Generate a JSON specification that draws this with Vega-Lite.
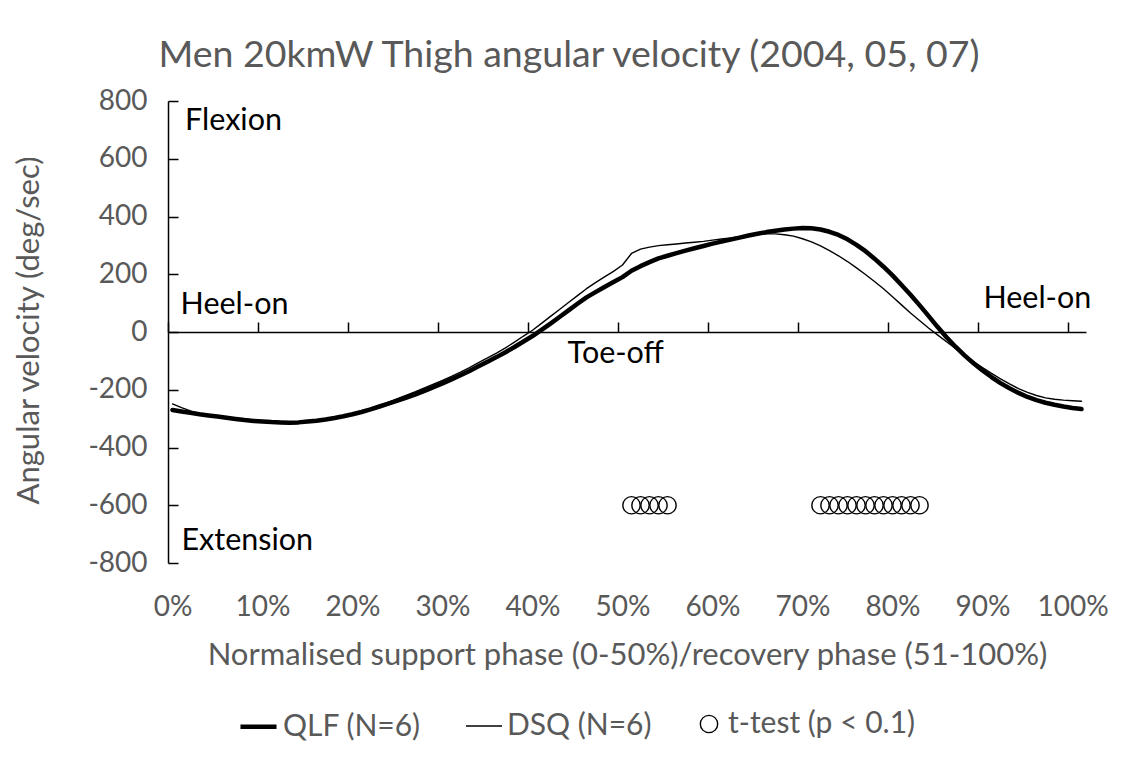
{
  "$schema": "https://vega.github.io/schema/vega-lite/v6.json",
  "width": 918,
  "height": 462,
  "autosize": "none",
  "padding": {"left": 168, "top": 101, "right": 44, "bottom": 195},
  "background": "white",
  "config": {
    "font": "Lato",
    "view": {"stroke": null},
    "axis": {"grid": false}
  },
  "title": {
    "text": "Men 20kmW Thigh angular velocity (2004, 05, 07)",
    "fontSize": 37.5,
    "font": "Lato",
    "fontWeight": "normal",
    "color": "#595959",
    "anchor": "middle",
    "offset": 13,
    "dx": -58
  },
  "datasets": {
    "curves": [
      {"x": 0, "QLF (N=6)": -270, "DSQ (N=6)": -249},
      {"x": 1, "QLF (N=6)": -275, "DSQ (N=6)": -262},
      {"x": 2, "QLF (N=6)": -280, "DSQ (N=6)": -273},
      {"x": 3, "QLF (N=6)": -285, "DSQ (N=6)": -282},
      {"x": 4, "QLF (N=6)": -289, "DSQ (N=6)": -288},
      {"x": 5, "QLF (N=6)": -293, "DSQ (N=6)": -293},
      {"x": 6, "QLF (N=6)": -297, "DSQ (N=6)": -297},
      {"x": 7, "QLF (N=6)": -301, "DSQ (N=6)": -301},
      {"x": 8, "QLF (N=6)": -305, "DSQ (N=6)": -304},
      {"x": 9, "QLF (N=6)": -308, "DSQ (N=6)": -307},
      {"x": 10, "QLF (N=6)": -310, "DSQ (N=6)": -309},
      {"x": 11, "QLF (N=6)": -312, "DSQ (N=6)": -311},
      {"x": 12, "QLF (N=6)": -313, "DSQ (N=6)": -312},
      {"x": 13, "QLF (N=6)": -314, "DSQ (N=6)": -312},
      {"x": 14, "QLF (N=6)": -313, "DSQ (N=6)": -311},
      {"x": 15, "QLF (N=6)": -310, "DSQ (N=6)": -309},
      {"x": 16, "QLF (N=6)": -307, "DSQ (N=6)": -305},
      {"x": 17, "QLF (N=6)": -303, "DSQ (N=6)": -301},
      {"x": 18, "QLF (N=6)": -298, "DSQ (N=6)": -296},
      {"x": 19, "QLF (N=6)": -292, "DSQ (N=6)": -290},
      {"x": 20, "QLF (N=6)": -285, "DSQ (N=6)": -283},
      {"x": 21, "QLF (N=6)": -277, "DSQ (N=6)": -275},
      {"x": 22, "QLF (N=6)": -268, "DSQ (N=6)": -265},
      {"x": 23, "QLF (N=6)": -258, "DSQ (N=6)": -254},
      {"x": 24, "QLF (N=6)": -248, "DSQ (N=6)": -243},
      {"x": 25, "QLF (N=6)": -238, "DSQ (N=6)": -231},
      {"x": 26, "QLF (N=6)": -227, "DSQ (N=6)": -219},
      {"x": 27, "QLF (N=6)": -216, "DSQ (N=6)": -207},
      {"x": 28, "QLF (N=6)": -204, "DSQ (N=6)": -194},
      {"x": 29, "QLF (N=6)": -191, "DSQ (N=6)": -181},
      {"x": 30, "QLF (N=6)": -178, "DSQ (N=6)": -168},
      {"x": 31, "QLF (N=6)": -164, "DSQ (N=6)": -154},
      {"x": 32, "QLF (N=6)": -150, "DSQ (N=6)": -139},
      {"x": 33, "QLF (N=6)": -135, "DSQ (N=6)": -123},
      {"x": 34, "QLF (N=6)": -119, "DSQ (N=6)": -106},
      {"x": 35, "QLF (N=6)": -103, "DSQ (N=6)": -90},
      {"x": 36, "QLF (N=6)": -87, "DSQ (N=6)": -73},
      {"x": 37, "QLF (N=6)": -70, "DSQ (N=6)": -55},
      {"x": 38, "QLF (N=6)": -52, "DSQ (N=6)": -35},
      {"x": 39, "QLF (N=6)": -33, "DSQ (N=6)": -14},
      {"x": 40, "QLF (N=6)": -14, "DSQ (N=6)": 6},
      {"x": 41, "QLF (N=6)": 7, "DSQ (N=6)": 30},
      {"x": 42, "QLF (N=6)": 29, "DSQ (N=6)": 54},
      {"x": 43, "QLF (N=6)": 52, "DSQ (N=6)": 78},
      {"x": 44, "QLF (N=6)": 75, "DSQ (N=6)": 102},
      {"x": 45, "QLF (N=6)": 98, "DSQ (N=6)": 126},
      {"x": 46, "QLF (N=6)": 120, "DSQ (N=6)": 150},
      {"x": 47, "QLF (N=6)": 138, "DSQ (N=6)": 171},
      {"x": 48, "QLF (N=6)": 156, "DSQ (N=6)": 191},
      {"x": 49, "QLF (N=6)": 173, "DSQ (N=6)": 210},
      {"x": 50, "QLF (N=6)": 190, "DSQ (N=6)": 232},
      {"x": 51, "QLF (N=6)": 212, "DSQ (N=6)": 272},
      {"x": 52, "QLF (N=6)": 228, "DSQ (N=6)": 287},
      {"x": 53, "QLF (N=6)": 242, "DSQ (N=6)": 294},
      {"x": 54, "QLF (N=6)": 255, "DSQ (N=6)": 299},
      {"x": 55, "QLF (N=6)": 264, "DSQ (N=6)": 302},
      {"x": 56, "QLF (N=6)": 273, "DSQ (N=6)": 305},
      {"x": 57, "QLF (N=6)": 282, "DSQ (N=6)": 308},
      {"x": 58, "QLF (N=6)": 290, "DSQ (N=6)": 311},
      {"x": 59, "QLF (N=6)": 298, "DSQ (N=6)": 314},
      {"x": 60, "QLF (N=6)": 306, "DSQ (N=6)": 318},
      {"x": 61, "QLF (N=6)": 313, "DSQ (N=6)": 322},
      {"x": 62, "QLF (N=6)": 320, "DSQ (N=6)": 326},
      {"x": 63, "QLF (N=6)": 327, "DSQ (N=6)": 330},
      {"x": 64, "QLF (N=6)": 334, "DSQ (N=6)": 334},
      {"x": 65, "QLF (N=6)": 340, "DSQ (N=6)": 338},
      {"x": 66, "QLF (N=6)": 346, "DSQ (N=6)": 340},
      {"x": 67, "QLF (N=6)": 351, "DSQ (N=6)": 340},
      {"x": 68, "QLF (N=6)": 355, "DSQ (N=6)": 337},
      {"x": 69, "QLF (N=6)": 358, "DSQ (N=6)": 332},
      {"x": 70, "QLF (N=6)": 360, "DSQ (N=6)": 323},
      {"x": 71, "QLF (N=6)": 359, "DSQ (N=6)": 312},
      {"x": 72, "QLF (N=6)": 355, "DSQ (N=6)": 298},
      {"x": 73, "QLF (N=6)": 347, "DSQ (N=6)": 282},
      {"x": 74, "QLF (N=6)": 336, "DSQ (N=6)": 264},
      {"x": 75, "QLF (N=6)": 321, "DSQ (N=6)": 244},
      {"x": 76, "QLF (N=6)": 302, "DSQ (N=6)": 222},
      {"x": 77, "QLF (N=6)": 280, "DSQ (N=6)": 199},
      {"x": 78, "QLF (N=6)": 254, "DSQ (N=6)": 175},
      {"x": 79, "QLF (N=6)": 226, "DSQ (N=6)": 150},
      {"x": 80, "QLF (N=6)": 196, "DSQ (N=6)": 122},
      {"x": 81, "QLF (N=6)": 163, "DSQ (N=6)": 94},
      {"x": 82, "QLF (N=6)": 129, "DSQ (N=6)": 66},
      {"x": 83, "QLF (N=6)": 93, "DSQ (N=6)": 40},
      {"x": 84, "QLF (N=6)": 56, "DSQ (N=6)": 14},
      {"x": 85, "QLF (N=6)": 18, "DSQ (N=6)": -10},
      {"x": 86, "QLF (N=6)": -18, "DSQ (N=6)": -34},
      {"x": 87, "QLF (N=6)": -51, "DSQ (N=6)": -57},
      {"x": 88, "QLF (N=6)": -81, "DSQ (N=6)": -80},
      {"x": 89, "QLF (N=6)": -108, "DSQ (N=6)": -102},
      {"x": 90, "QLF (N=6)": -133, "DSQ (N=6)": -123},
      {"x": 91, "QLF (N=6)": -156, "DSQ (N=6)": -143},
      {"x": 92, "QLF (N=6)": -177, "DSQ (N=6)": -162},
      {"x": 93, "QLF (N=6)": -195, "DSQ (N=6)": -180},
      {"x": 94, "QLF (N=6)": -211, "DSQ (N=6)": -196},
      {"x": 95, "QLF (N=6)": -225, "DSQ (N=6)": -209},
      {"x": 96, "QLF (N=6)": -236, "DSQ (N=6)": -220},
      {"x": 97, "QLF (N=6)": -245, "DSQ (N=6)": -228},
      {"x": 98, "QLF (N=6)": -252, "DSQ (N=6)": -233},
      {"x": 99, "QLF (N=6)": -258, "DSQ (N=6)": -236},
      {"x": 100, "QLF (N=6)": -263, "DSQ (N=6)": -238},
      {"x": 101, "QLF (N=6)": -267, "DSQ (N=6)": -240}
    ],
    "ttest": [
      {"x": 51, "y": -600, "series": "t-test (p < 0.1)"},
      {"x": 52, "y": -600, "series": "t-test (p < 0.1)"},
      {"x": 53, "y": -600, "series": "t-test (p < 0.1)"},
      {"x": 54, "y": -600, "series": "t-test (p < 0.1)"},
      {"x": 55, "y": -600, "series": "t-test (p < 0.1)"},
      {"x": 72, "y": -600, "series": "t-test (p < 0.1)"},
      {"x": 73, "y": -600, "series": "t-test (p < 0.1)"},
      {"x": 74, "y": -600, "series": "t-test (p < 0.1)"},
      {"x": 75, "y": -600, "series": "t-test (p < 0.1)"},
      {"x": 76, "y": -600, "series": "t-test (p < 0.1)"},
      {"x": 77, "y": -600, "series": "t-test (p < 0.1)"},
      {"x": 78, "y": -600, "series": "t-test (p < 0.1)"},
      {"x": 79, "y": -600, "series": "t-test (p < 0.1)"},
      {"x": 80, "y": -600, "series": "t-test (p < 0.1)"},
      {"x": 81, "y": -600, "series": "t-test (p < 0.1)"},
      {"x": 82, "y": -600, "series": "t-test (p < 0.1)"},
      {"x": 83, "y": -600, "series": "t-test (p < 0.1)"}
    ],
    "notes": [
      {"x": 1.4, "y": 731, "text": "Flexion"},
      {"x": 0.9, "y": 94, "text": "Heel-on"},
      {"x": 90.1, "y": 114, "text": "Heel-on"},
      {"x": 43.9, "y": -76, "text": "Toe-off"},
      {"x": 1.0, "y": -724, "text": "Extension"}
    ]
  },
  "layer": [
    {
      "data": {"name": "curves"},
      "transform": [{"fold": ["QLF (N=6)", "DSQ (N=6)"], "as": ["series", "value"]}],
      "mark": {"type": "line", "strokeCap": "round", "strokeJoin": "round"},
      "encoding": {
        "x": {
          "field": "x", "type": "quantitative",
          "scale": {"domain": [-0.5, 101.5], "nice": false, "zero": false},
          "axis": {
            "orient": "bottom",
            "values": [0, 10, 20, 30, 40, 50, 60, 70, 80, 90, 100],
            "labelExpr": "datum.value + '%'",
            "domain": false, "ticks": false, "grid": false,
            "labelPadding": 30, "labelFontSize": 28, "labelColor": "#595959", "labelFont": "Lato",
            "title": "Normalised support phase (0-50%)/recovery phase (51-100%)",
            "titleFontSize": 31, "titleFontWeight": "normal", "titleColor": "#595959", "titleFont": "Lato",
            "titlePadding": 19
          }
        },
        "y": {
          "field": "value", "type": "quantitative",
          "scale": {"domain": [-800, 800], "nice": false},
          "axis": {
            "values": [-800, -600, -400, -200, 0, 200, 400, 600, 800],
            "labelExpr": "datum.value < 0 ? '-' + abs(datum.value) : '' + datum.value",
            "domain": true, "domainColor": "black", "domainWidth": 1.5,
            "ticks": true, "tickColor": "black", "tickWidth": 1.5, "tickSize": -10,
            "labelPadding": 31, "labelFontSize": 28, "labelColor": "#595959", "labelFont": "Lato",
            "title": "Angular velocity (deg/sec)",
            "titleFontSize": 31, "titleFontWeight": "normal", "titleColor": "#595959", "titleFont": "Lato",
            "titleX": -139, "titleY": 229, "titleAngle": -90, "titleBaseline": "middle", "titleAlign": "center"
          }
        },
        "color": {
          "field": "series", "type": "nominal",
          "scale": {"domain": ["QLF (N=6)", "DSQ (N=6)", "t-test (p < 0.1)"], "range": ["black", "black", "black"]},
          "legend": {
            "title": null, "orient": "none", "legendX": 70, "legendY": 605,
            "direction": "horizontal", "labelFontSize": 30, "labelColor": "#595959", "labelFont": "Lato",
            "labelLimit": 500, "columnPadding": 42, "labelOffset": 4
          }
        },
        "strokeWidth": {
          "field": "series", "type": "nominal",
          "scale": {"type": "ordinal", "domain": ["QLF (N=6)", "DSQ (N=6)", "t-test (p < 0.1)"], "range": [4.5, 1.4, 1.4]}
        }
      }
    },
    {
      "data": {"name": "ttest"},
      "mark": {"type": "point", "filled": false, "opacity": 1},
      "encoding": {
        "x": {
          "field": "x", "type": "quantitative",
          "axis": {
            "orient": "top", "offset": -231,
            "values": [-0.5, 9.5, 19.5, 29.5, 39.5, 49.5, 59.5, 69.5, 79.5, 89.5, 99.5],
            "labels": false, "title": null, "grid": false,
            "domain": true, "domainColor": "black", "domainWidth": 1.5,
            "ticks": true, "tickColor": "black", "tickWidth": 1.5, "tickSize": 10
          }
        },
        "y": {"field": "y", "type": "quantitative"},
        "color": {
          "field": "series", "type": "nominal",
          "scale": {"domain": ["QLF (N=6)", "DSQ (N=6)", "t-test (p < 0.1)"], "range": ["black", "black", "black"]}
        },
        "shape": {
          "field": "series", "type": "nominal",
          "scale": {"domain": ["QLF (N=6)", "DSQ (N=6)", "t-test (p < 0.1)"], "range": ["stroke", "stroke", "circle"]}
        },
        "size": {
          "field": "series", "type": "nominal",
          "scale": {"type": "ordinal", "domain": ["QLF (N=6)", "DSQ (N=6)", "t-test (p < 0.1)"], "range": [1300, 1300, 300]}
        },
        "strokeWidth": {
          "field": "series", "type": "nominal",
          "scale": {"type": "ordinal", "domain": ["QLF (N=6)", "DSQ (N=6)", "t-test (p < 0.1)"], "range": [4.5, 1.4, 1.4]}
        }
      }
    },
    {
      "data": {"name": "notes"},
      "mark": {"type": "text", "align": "left", "baseline": "middle", "fontSize": 30.5, "font": "Lato", "color": "black"},
      "encoding": {
        "x": {"field": "x", "type": "quantitative", "axis": null},
        "y": {"field": "y", "type": "quantitative"},
        "text": {"field": "text"}
      }
    }
  ],
  "resolve": {"axis": {"x": "independent"}}
}
